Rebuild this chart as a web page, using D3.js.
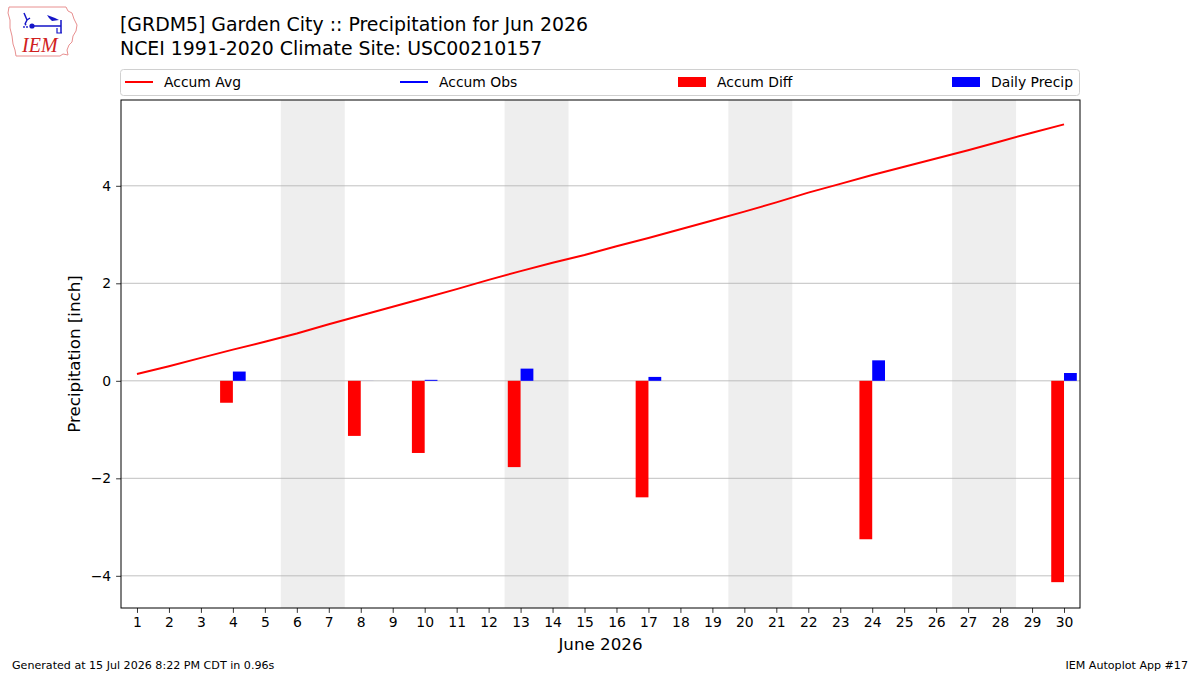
<!DOCTYPE html>
<html>
<head>
<meta charset="utf-8">
<script src="https://cdn.jsdelivr.net/npm/d3@7"></script>
<style>
  html, body { margin: 0; padding: 0; background: #fff; }
  svg { display: block; font-family: "DejaVu Sans", sans-serif; }
</style>
</head>
<body>
<svg id="chart" width="1200" height="675"></svg>
<script>
// ---- data ----
const days = d3.range(1, 31);
const accumAvg = [0.14, 0.30, 0.47, 0.64, 0.80, 0.97, 1.16, 1.34, 1.52, 1.70,
                  1.88, 2.07, 2.25, 2.42, 2.58, 2.76, 2.93, 3.11, 3.29, 3.47,
                  3.66, 3.86, 4.04, 4.22, 4.39, 4.56, 4.73, 4.91, 5.09, 5.26];
const obsDays = [4, 8, 10, 13, 17, 24, 30];
const dailyPrecip = [0.19, 0.001, 0.02, 0.25, 0.08, 0.42, 0.16];
const accumDiff = [-0.45, -1.13, -1.48, -1.77, -2.39, -3.25, -4.13];
const weekendStarts = [6, 13, 20, 27];
const yTicks = [-4, -2, 0, 2, 4];
const titleLines = ["[GRDM5] Garden City :: Precipitation for Jun 2026",
                    "NCEI 1991-2020 Climate Site: USC00210157"];
const legendItems = [
  {label: "Accum Avg", type: "line", color: "red"},
  {label: "Accum Obs", type: "line", color: "blue"},
  {label: "Accum Diff", type: "patch", color: "red"},
  {label: "Daily Precip", type: "patch", color: "blue"}
];

// ---- layout ----
const svg = d3.select("#chart");
const L = 121, R = 1080, T = 100, B = 608;
const x = d3.scaleLinear().domain([0.5, 30.5]).range([L, R]);
const y = d3.scaleLinear().domain([-4.66, 5.76]).range([B, T]);
const barW = x(0.4) - x(0);

// weekend shading (Sat+Sun)
svg.append("g").selectAll("rect").data(weekendStarts).join("rect")
  .attr("x", d => x(d - 0.5)).attr("width", x(2) - x(0))
  .attr("y", T).attr("height", B - T).attr("fill", "#eeeeee");

// grid
svg.append("g").selectAll("line").data(yTicks).join("line")
  .attr("x1", L).attr("x2", R).attr("y1", d => y(d)).attr("y2", d => y(d))
  .attr("stroke", "#b0b0b0").attr("stroke-width", 0.8);

// bars
svg.append("g").selectAll("rect").data(obsDays).join("rect")
  .attr("x", (d) => x(d - 0.4)).attr("width", barW)
  .attr("y", (d, i) => y(Math.max(0, accumDiff[i])))
  .attr("height", (d, i) => Math.abs(y(accumDiff[i]) - y(0)))
  .attr("fill", "red");
svg.append("g").selectAll("rect").data(obsDays).join("rect")
  .attr("x", (d) => x(d)).attr("width", barW)
  .attr("y", (d, i) => y(dailyPrecip[i]))
  .attr("height", (d, i) => y(0) - y(dailyPrecip[i]))
  .attr("fill", "blue");

// accum avg line
svg.append("path")
  .datum(days)
  .attr("d", d3.line().x(d => x(d)).y((d, i) => y(accumAvg[i])))
  .attr("fill", "none").attr("stroke", "red").attr("stroke-width", 2);

// frame
svg.append("rect").attr("x", L).attr("y", T).attr("width", R - L).attr("height", B - T)
  .attr("fill", "none").attr("stroke", "#000").attr("stroke-width", 1);

// axes
const fmt = d => (d < 0 ? "\u2212" + Math.abs(d) : String(d));
const xAxis = svg.append("g").attr("transform", `translate(0,${B})`)
  .call(d3.axisBottom(x).tickValues(days).tickSize(4.9).tickPadding(4).tickFormat(d => d));
const yAxis = svg.append("g").attr("transform", `translate(${L},0)`)
  .call(d3.axisLeft(y).tickValues(yTicks).tickSize(4.9).tickPadding(5).tickFormat(fmt));
[xAxis, yAxis].forEach(g => {
  g.select(".domain").remove();
  g.selectAll("line").attr("stroke", "#000").attr("stroke-width", 0.8);
  g.selectAll("text").attr("font-family", "DejaVu Sans").attr("font-size", 13.9).attr("fill", "#000");
});

// axis labels
svg.append("text").attr("x", (L + R) / 2).attr("y", 650).attr("text-anchor", "middle")
  .attr("font-size", 16.7).text("June 2026");
svg.append("text").attr("transform", `translate(80,${(T + B) / 2}) rotate(-90)`)
  .attr("text-anchor", "middle").attr("font-size", 16.7).text("Precipitation [inch]");

// title
svg.append("g").selectAll("text").data(titleLines).join("text")
  .attr("x", 120).attr("y", (d, i) => 31 + i * 23.5)
  .attr("font-size", 18.9).text(d => d);

// legend
svg.append("rect").attr("x", 120.5).attr("y", 69.5).attr("width", 959).attr("height", 26)
  .attr("rx", 3).attr("fill", "#fff").attr("stroke", "#d0d0d0");
const legX = [125, 400, 678, 952];
const lg = svg.append("g").selectAll("g").data(legendItems).join("g")
  .attr("transform", (d, i) => `translate(${legX[i]},82)`);
lg.filter(d => d.type === "line").append("line")
  .attr("x1", 0).attr("x2", 28).attr("stroke", d => d.color).attr("stroke-width", 2);
lg.filter(d => d.type === "patch").append("rect")
  .attr("x", 0).attr("y", -5).attr("width", 28).attr("height", 10).attr("fill", d => d.color);
lg.append("text").attr("x", 39).attr("y", 5).attr("font-size", 13.9).text(d => d.label);

// footer
svg.append("text").attr("x", 12).attr("y", 669).attr("font-size", 11.1)
  .text("Generated at 15 Jul 2026 8:22 PM CDT in 0.96s");
svg.append("text").attr("x", 1188).attr("y", 669).attr("text-anchor", "end").attr("font-size", 11.1)
  .text("IEM Autoplot App #17");

// logo (approximation)
const logo = svg.append("g");
logo.append("path")
  .attr("d", "M9,7 L66,7 L68,11 L72,13 L74,19 L77,25 L76,31 L73,36 L72,42 L69,45 L67,50 L68,55 L63,54 L60,56 L16,56 L15,50 L13,44 L12,36 L10,28 L10,20 L8,13 Z")
  .attr("fill", "none").attr("stroke", "#e89090").attr("stroke-width", 1);
logo.append("text").attr("x", 22).attr("y", 52).attr("font-family", "Liberation Serif")
  .attr("font-style", "italic").attr("font-size", 20).attr("fill", "#d02020").text("IEM");
logo.append("path").attr("d", "M32,26 L61,26 M61,20 L61,33 M24,13 L27,20 L25,24 M27,20 L30,18")
  .attr("stroke", "#1515c8").attr("stroke-width", 1.5).attr("fill", "none");
logo.append("path").attr("d", "M47,15 L55,18 L59,20 L52,21 L49,18 Z").attr("fill", "#1515c8");
logo.append("path").attr("d", "M57,28 L57,33 L62,33").attr("stroke", "#1515c8").attr("stroke-width", 1.2).attr("fill", "none");
logo.append("circle").attr("cx", 32).attr("cy", 26).attr("r", 2.6).attr("fill", "#1515c8");
logo.append("circle").attr("cx", 24).attr("cy", 27).attr("r", 0.9).attr("fill", "#1515c8");
logo.append("circle").attr("cx", 27).attr("cy", 27).attr("r", 0.9).attr("fill", "#1515c8");
logo.append("circle").attr("cx", 25.5).attr("cy", 24.5).attr("r", 0.9).attr("fill", "#1515c8");
</script>
</body>
</html>
